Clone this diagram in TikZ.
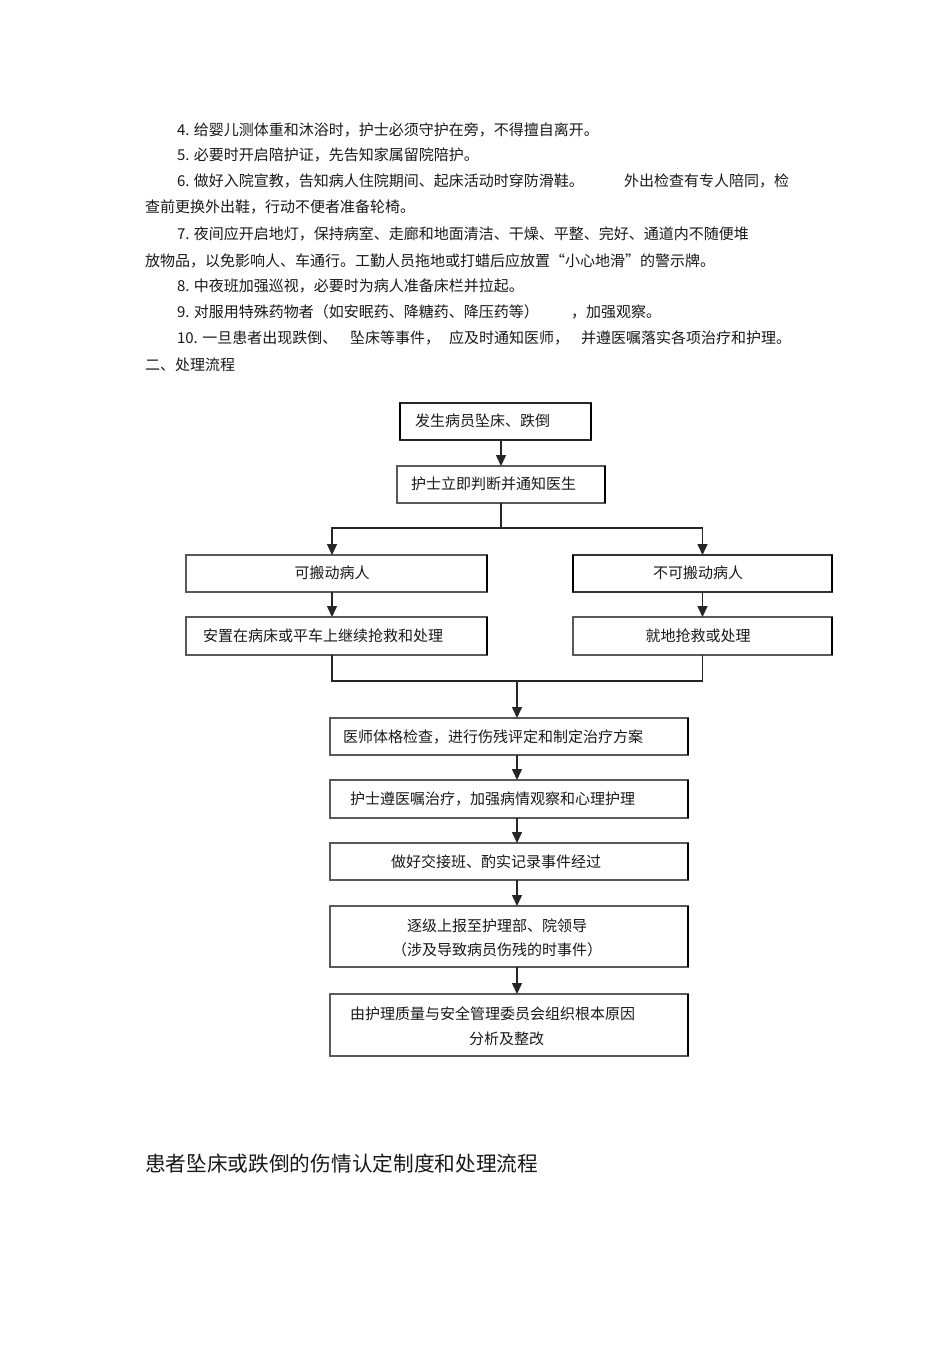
\documentclass[tikz,border=0pt]{standalone}
\usepackage{fontspec}
\setmainfont{Noto Sans CJK SC}
\usetikzlibrary{arrows.meta}
\begin{document}
\begin{tikzpicture}[x=1pt,y=-1pt,
  every node/.style={inner sep=0pt, outer sep=0pt, font=\fontsize{15}{18}\selectfont, text=black!90},
  txt/.style={anchor=west},
  ctxt/.style={anchor=center},
  box/.style={draw=black!65, line width=1.1pt, anchor=north west, rectangle},
  redge/.style={line width=2.4pt, draw=black},
  ln/.style={line width=1.5pt, draw=black!85},
  arr/.style={ln, -{Triangle[length=11pt,width=10pt]}},
  title/.style={anchor=west, font=\fontsize{20.7}{24}\selectfont}]
\useasboundingbox (0,0) rectangle (950,1345);
\fill[white] (0,0) rectangle (950,1345);

% body text
\node[txt] (l1) at (177,130) {4. 给婴儿测体重和沐浴时，护士必须守护在旁，不得擅自离开。};
\node[txt] (l2) at (177,155) {5. 必要时开启陪护证，先告知家属留院陪护。};
\node[txt] (l3a) at (177,181) {6. 做好入院宣教，告知病人住院期间、起床活动时穿防滑鞋。};
\node[txt] (l3b) at (624,181) {外出检查有专人陪同，检};
\node[txt] (l4) at (145,207) {查前更换外出鞋，行动不便者准备轮椅。};
\node[txt] (l5) at (177,234) {7. 夜间应开启地灯，保持病室、走廊和地面清洁、干燥、平整、完好、通道内不随便堆};
\node[txt] (l6) at (145,261) {放物品，以免影响人、车通行。工勤人员拖地或打蜡后应放置“小心地滑”的警示牌。};
\node[txt] (l7) at (177,286) {8. 中夜班加强巡视，必要时为病人准备床栏并拉起。};
\node[txt] (l8a) at (177,312) {9. 对服用特殊药物者（如安眠药、降糖药、降压药等）};
\node[txt] (l8b) at (571,312) {，加强观察。};
\node[txt] (l9a) at (177,338) {10. 一旦患者出现跌倒、};
\node[txt] (l9b) at (350,338) {坠床等事件，};
\node[txt] (l9c) at (449,338) {应及时通知医师，};
\node[txt] (l9d) at (581,338) {并遵医嘱落实各项治疗和护理。};
\node[txt] (l10) at (145,365) {二、处理流程};

% boxes
\node[box, minimum width=191, minimum height=37, line width=2pt, draw=black!85] (b1) at (400,403) {};
\node[box, minimum width=208, minimum height=37] (b2) at (397,466) {};
\node[box, minimum width=301, minimum height=37] (L1) at (186,555) {};
\node[box, minimum width=259, minimum height=37, line width=1.6pt, draw=black!80] (R1) at (573,555) {};
\node[box, minimum width=301, minimum height=38] (L2) at (186,617) {};
\node[box, minimum width=259, minimum height=38] (R2) at (573,617) {};
\node[box, minimum width=358, minimum height=37] (b3) at (330,718) {};
\node[box, minimum width=358, minimum height=38] (b4) at (330,780) {};
\node[box, minimum width=358, minimum height=37] (b5) at (330,843) {};
\node[box, minimum width=358, minimum height=61] (b6) at (330,906) {};
\node[box, minimum width=358, minimum height=62] (b7) at (330,994) {};

\foreach \b in {b1,b2,L1,R1,L2,R2,b3,b4,b5,b6,b7}
  \draw[redge] (\b.north east) -- (\b.south east);
\draw[redge] (R1.north west) -- (R1.south west);
\draw[redge] (b1.north west) -- (b1.south west);

% box texts
\node[txt] (t1) at (415,421) {发生病员坠床、跌倒};
\node[txt] (t2) at (411,484) {护士立即判断并通知医生};
\node[ctxt] (tL1) at (332,573) {可搬动病人};
\node[ctxt] (tR1) at (698,573) {不可搬动病人};
\node[txt] (tL2) at (203,636) {安置在病床或平车上继续抢救和处理};
\node[ctxt] (tR2) at (698,636) {就地抢救或处理};
\node[txt] (t3) at (343,737) {医师体格检查，进行伤残评定和制定治疗方案};
\node[txt] (t4) at (350,799) {护士遵医嘱治疗，加强病情观察和心理护理};
\node[ctxt] (t5) at (496,862) {做好交接班、酌实记录事件经过};
\node[ctxt] (t6a) at (497,926) {逐级上报至护理部、院领导};
\node[ctxt] (t6b) at (497,950) {（涉及导致病员伤残的时事件）};
\node[txt] (t7a) at (350,1014) {由护理质量与安全管理委员会组织根本原因};
\node[txt] (t7b) at (469,1039) {分析及整改};

% title
\node[title] (ttl) at (145,1164) {患者坠床或跌倒的伤情认定制度和处理流程};

% connectors
\coordinate (lx) at (332,0);
\coordinate (br) at (501,528);
\coordinate (mC) at (517,681);
\draw[arr] (b1.south -| b2.north) -- (b2.north);
\draw[ln] (b2.south) -- (br);
\draw[arr] (br) -| (L1.north -| lx);
\draw[arr] (br) -| (R1.north);
\draw[arr] (L1.south -| lx) -- (L2.north -| lx);
\draw[arr] (R1.south) -- (R2.north);
\draw[ln] (L2.south -| lx) |- (mC) -| (R2.south);
\draw[arr] (mC) -- (b3.north -| mC);
\draw[arr] (b3.south -| mC) -- (b4.north -| mC);
\draw[arr] (b4.south -| mC) -- (b5.north -| mC);
\draw[arr] (b5.south -| mC) -- (b6.north -| mC);
\draw[arr] (b6.south -| mC) -- (b7.north -| mC);
\end{tikzpicture}
\end{document}
